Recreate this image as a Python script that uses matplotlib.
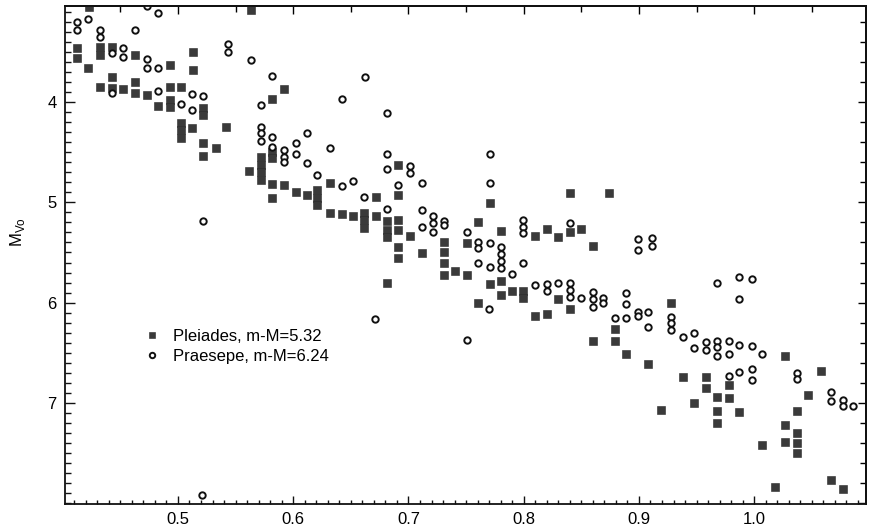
import matplotlib
matplotlib.use("Agg")
import matplotlib.pyplot as plt
from matplotlib.ticker import MultipleLocator, NullFormatter

plt.rcParams['font.family'] = ['Liberation Sans', 'DejaVu Sans']
plt.rcParams['mathtext.fontset'] = 'custom'
plt.rcParams['mathtext.rm'] = 'Liberation Sans'

# Pleiades (filled squares): (B-V)o, Mvo
pleiades_bv = [0.423, 0.412, 0.412, 0.422, 0.432, 0.432, 0.443, 0.463, 0.493, 0.513,
               0.513, 0.563, 0.432, 0.443, 0.443, 0.452, 0.463, 0.463, 0.473, 0.483,
               0.493, 0.493, 0.493, 0.503, 0.522, 0.522, 0.503, 0.503, 0.503, 0.512,
               0.542, 0.522, 0.522, 0.533, 0.592, 0.582, 0.562, 0.572, 0.572, 0.572,
               0.572, 0.582, 0.582, 0.582, 0.582, 0.592, 0.602, 0.612, 0.621, 0.621,
               0.621, 0.632, 0.632, 0.642, 0.652, 0.661, 0.661, 0.661, 0.672, 0.672,
               0.681, 0.681, 0.681, 0.691, 0.691, 0.691, 0.691, 0.691, 0.691, 0.701,
               0.712, 0.731, 0.731, 0.731, 0.731, 0.740, 0.751, 0.681, 0.751, 0.760,
               0.771, 0.771, 0.760, 0.780, 0.780, 0.780, 0.790, 0.799, 0.799, 0.810,
               0.820, 0.810, 0.820, 0.830, 0.830, 0.840, 0.840, 0.840, 0.850, 0.860,
               0.860, 0.874, 0.879, 0.879, 0.889, 0.908, 0.919, 0.928, 0.938, 0.948,
               0.958, 0.958, 0.968, 0.968, 0.968, 0.978, 0.978, 0.987, 1.007, 1.018,
               1.027, 1.027, 1.027, 1.037, 1.037, 1.037, 1.037, 1.047, 1.058, 1.067,
               1.077]
pleiades_mv = [3.05, 3.46, 3.56, 3.66, 3.45, 3.53, 3.45, 3.53, 3.63, 3.50,
               3.68, 3.08, 3.85, 3.75, 3.86, 3.87, 3.80, 3.91, 3.93, 4.04,
               3.85, 3.98, 4.05, 3.85, 4.06, 4.13, 4.21, 4.28, 4.36, 4.26,
               4.25, 4.41, 4.54, 4.46, 3.87, 3.97, 4.69, 4.55, 4.63, 4.70,
               4.78, 4.50, 4.56, 4.82, 4.96, 4.83, 4.90, 4.93, 4.88, 4.96,
               5.03, 4.81, 5.11, 5.12, 5.14, 5.11, 5.18, 5.26, 4.95, 5.14,
               5.19, 5.28, 5.35, 4.63, 4.93, 5.18, 5.28, 5.45, 5.55, 5.34,
               5.51, 5.40, 5.50, 5.60, 5.72, 5.68, 5.72, 5.80, 5.41, 5.20,
               5.01, 5.81, 6.00, 5.29, 5.78, 5.92, 5.88, 5.88, 5.95, 5.34,
               5.27, 6.13, 6.11, 5.35, 5.96, 4.91, 5.30, 6.06, 5.27, 5.44,
               6.38, 4.91, 6.26, 6.38, 6.51, 6.61, 7.07, 6.00, 6.74, 7.00,
               6.74, 6.85, 6.94, 7.08, 7.20, 6.82, 6.95, 7.09, 7.42, 7.84,
               6.53, 7.22, 7.39, 7.08, 7.30, 7.40, 7.50, 6.92, 6.68, 7.77,
               7.86]

# Praesepe (open circles): (B-V)o, Mvo
praesepe_bv = [0.412, 0.412, 0.422, 0.432, 0.432, 0.463, 0.473, 0.483, 0.443, 0.452,
               0.452, 0.473, 0.473, 0.483, 0.543, 0.543, 0.563, 0.443, 0.483, 0.503,
               0.512, 0.512, 0.522, 0.522, 0.521, 0.582, 0.572, 0.662, 0.642, 0.681,
               0.572, 0.572, 0.572, 0.582, 0.582, 0.592, 0.592, 0.592, 0.602, 0.602,
               0.612, 0.612, 0.621, 0.632, 0.642, 0.652, 0.661, 0.681, 0.681, 0.681,
               0.701, 0.701, 0.691, 0.712, 0.712, 0.712, 0.721, 0.721, 0.721, 0.731,
               0.731, 0.671, 0.751, 0.760, 0.760, 0.760, 0.771, 0.771, 0.771, 0.771,
               0.770, 0.751, 0.780, 0.780, 0.780, 0.780, 0.790, 0.799, 0.799, 0.799,
               0.799, 0.810, 0.820, 0.820, 0.830, 0.840, 0.840, 0.840, 0.840, 0.850,
               0.860, 0.860, 0.860, 0.869, 0.869, 0.879, 0.889, 0.889, 0.889, 0.899,
               0.899, 0.911, 0.911, 0.899, 0.899, 0.908, 0.908, 0.928, 0.928, 0.928,
               0.938, 0.948, 0.948, 0.958, 0.958, 0.968, 0.968, 0.968, 0.968, 0.978,
               0.978, 0.978, 0.987, 0.987, 0.987, 0.987, 0.998, 0.998, 0.998, 0.998,
               1.007, 1.037, 1.037, 1.067, 1.067, 1.077, 1.077, 1.086]
praesepe_mv = [3.20, 3.28, 3.17, 3.28, 3.35, 3.28, 3.04, 3.11, 3.51, 3.46,
               3.55, 3.57, 3.66, 3.66, 3.42, 3.50, 3.58, 3.91, 3.89, 4.02,
               3.92, 4.08, 3.94, 5.19, 7.92, 3.74, 4.03, 3.75, 3.97, 4.11,
               4.25, 4.31, 4.39, 4.35, 4.45, 4.48, 4.55, 4.60, 4.41, 4.52,
               4.31, 4.61, 4.73, 4.46, 4.84, 4.79, 4.95, 4.52, 4.67, 5.07,
               4.64, 4.71, 4.83, 4.81, 5.08, 5.25, 5.14, 5.21, 5.30, 5.19,
               5.23, 6.16, 5.30, 5.40, 5.46, 5.60, 4.52, 4.81, 5.41, 5.64,
               6.06, 6.37, 5.45, 5.52, 5.58, 5.65, 5.71, 5.60, 5.18, 5.25,
               5.31, 5.82, 5.81, 5.88, 5.80, 5.21, 5.80, 5.87, 5.94, 5.95,
               5.89, 5.96, 6.04, 5.95, 6.00, 6.15, 5.90, 6.01, 6.15, 5.37,
               5.48, 5.36, 5.44, 6.09, 6.13, 6.09, 6.24, 6.14, 6.20, 6.27,
               6.34, 6.30, 6.45, 6.39, 6.47, 5.80, 6.38, 6.44, 6.53, 6.38,
               6.51, 6.73, 5.74, 5.96, 6.42, 6.69, 5.76, 6.43, 6.66, 6.77,
               6.51, 6.70, 6.76, 6.89, 6.98, 6.97, 7.03, 7.03]

labels = ['Pleiades, m-M=5.32', 'Praesepe, m-M=6.24']
x_ticks = [0.5, 0.6, 0.7, 0.8, 0.9, 1.0]
y_ticks = [4, 5, 6, 7]

fig = plt.figure(figsize=(8.74, 5.32), dpi=100)
ax = fig.add_axes([65 / 874, 28 / 532, 801 / 874, 498 / 532])

ax.plot(pleiades_bv, pleiades_mv, 's', ms=5.8, mfc='#3a3a3a', mec='#2a2a2a',
        mew=0.4, ls='none', label=labels[0])
ax.plot(praesepe_bv, praesepe_mv, 'o', ms=4.6, mfc='white', mec='#111111',
        mew=1.4, ls='none', label=labels[1])

ax.set_xlim(0.402, 1.097)
ax.set_ylim(8.007, 3.043)

# bottom / left ticks
ax.set_xticks(x_ticks)
ax.set_xticklabels([f'{v:.1f}' for v in x_ticks])
ax.xaxis.set_minor_locator(MultipleLocator(0.01))
ax.set_yticks(y_ticks)
ax.set_yticklabels([str(v) for v in y_ticks])
ax.yaxis.set_minor_locator(MultipleLocator(0.1))
ax.tick_params(which='both', direction='in', top=False, right=False,
               labelsize=12, width=1.0, color='#111111')
ax.tick_params(axis='x', which='major', length=6, pad=6)
ax.tick_params(axis='x', which='minor', length=3)
ax.tick_params(axis='y', which='major', length=7, pad=6)
ax.tick_params(axis='y', which='minor', length=4)

# top / right ticks are spaced differently
top = ax.secondary_xaxis('top')
top.xaxis.set_major_locator(MultipleLocator(0.1))
top.xaxis.set_minor_locator(MultipleLocator(0.05))
top.xaxis.set_major_formatter(NullFormatter())
top.tick_params(which='both', direction='in', width=1.0)
top.tick_params(which='major', length=6)
top.tick_params(which='minor', length=4)

right = ax.secondary_yaxis('right')
right.yaxis.set_major_locator(MultipleLocator(1))
right.yaxis.set_minor_locator(MultipleLocator(0.2))
right.yaxis.set_major_formatter(NullFormatter())
right.tick_params(which='both', direction='in', width=1.0)
right.tick_params(which='major', length=6)
right.tick_params(which='minor', length=4)

for s in ax.spines.values():
    s.set_linewidth(1.3)
    s.set_color('#111111')
top.spines['top'].set_linewidth(1.3)
right.spines['right'].set_linewidth(1.3)

ax.set_ylabel(r'M$_{\mathrm{Vo}}$', fontsize=12)
ax.yaxis.set_label_coords(-0.047, 0.545)

ax.legend(loc='upper left', bbox_to_anchor=(0.098, 0.352), frameon=False,
          fontsize=12, numpoints=1, handlelength=1.0, handletextpad=0.75,
          labelspacing=0.3, borderpad=0, borderaxespad=0, markerscale=0.85)

fig.savefig('out.png', dpi=100)
